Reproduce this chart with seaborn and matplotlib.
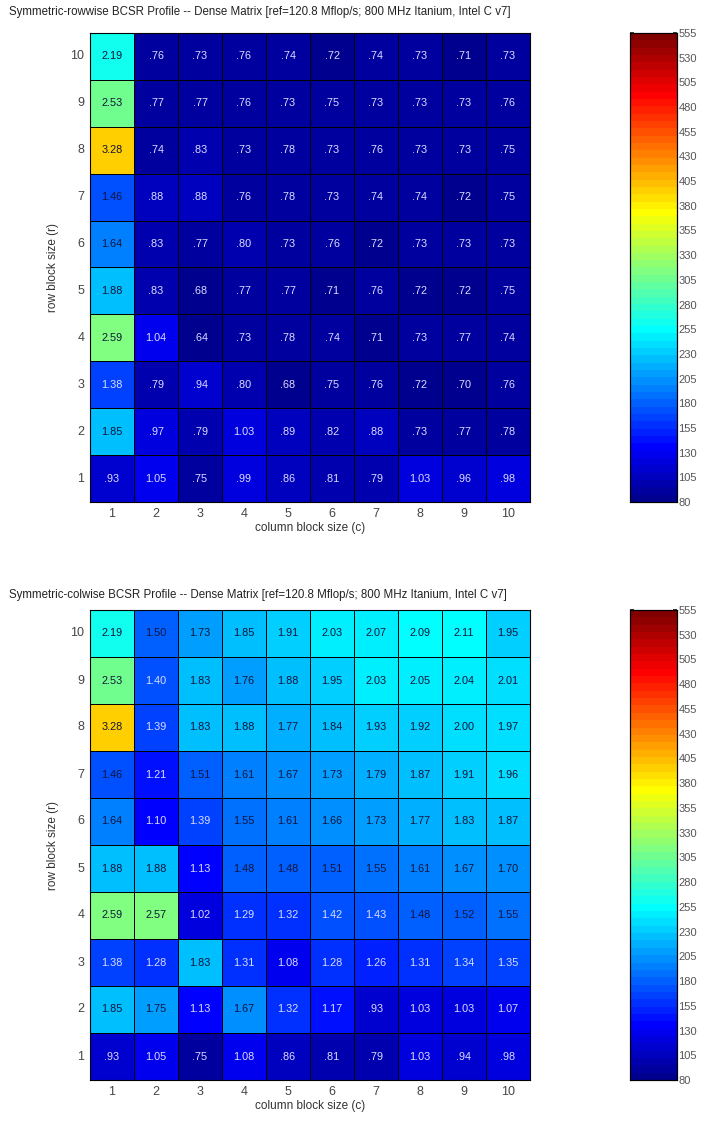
import numpy as np
import pandas as pd
import matplotlib
matplotlib.use("Agg")
import matplotlib.pyplot as plt
from matplotlib.colors import ListedColormap
import seaborn as sns

sns.set_theme(style="white")
plt.rcParams["font.family"] = ["Liberation Sans", "DejaVu Sans"]

REF_MFLOPS = 120.8
row_sizes = [10, 9, 8, 7, 6, 5, 4, 3, 2, 1]
col_sizes = [1, 2, 3, 4, 5, 6, 7, 8, 9, 10]

# Speedups over the reference rate, rows r = 10 .. 1, columns c = 1 .. 10
rowwise_speedup = [
    [2.19, 0.76, 0.73, 0.76, 0.74, 0.72, 0.74, 0.73, 0.71, 0.73],
    [2.53, 0.77, 0.77, 0.76, 0.73, 0.75, 0.73, 0.73, 0.73, 0.76],
    [3.28, 0.74, 0.83, 0.73, 0.78, 0.73, 0.76, 0.73, 0.73, 0.75],
    [1.46, 0.88, 0.88, 0.76, 0.78, 0.73, 0.74, 0.74, 0.72, 0.75],
    [1.64, 0.83, 0.77, 0.80, 0.73, 0.76, 0.72, 0.73, 0.73, 0.73],
    [1.88, 0.83, 0.68, 0.77, 0.77, 0.71, 0.76, 0.72, 0.72, 0.75],
    [2.59, 1.04, 0.64, 0.73, 0.78, 0.74, 0.71, 0.73, 0.77, 0.74],
    [1.38, 0.79, 0.94, 0.80, 0.68, 0.75, 0.76, 0.72, 0.70, 0.76],
    [1.85, 0.97, 0.79, 1.03, 0.89, 0.82, 0.88, 0.73, 0.77, 0.78],
    [0.93, 1.05, 0.75, 0.99, 0.86, 0.81, 0.79, 1.03, 0.96, 0.98],
]

colwise_speedup = [
    [2.19, 1.50, 1.73, 1.85, 1.91, 2.03, 2.07, 2.09, 2.11, 1.95],
    [2.53, 1.40, 1.83, 1.76, 1.88, 1.95, 2.03, 2.05, 2.04, 2.01],
    [3.28, 1.39, 1.83, 1.88, 1.77, 1.84, 1.93, 1.92, 2.00, 1.97],
    [1.46, 1.21, 1.51, 1.61, 1.67, 1.73, 1.79, 1.87, 1.91, 1.96],
    [1.64, 1.10, 1.39, 1.55, 1.61, 1.66, 1.73, 1.77, 1.83, 1.87],
    [1.88, 1.88, 1.13, 1.48, 1.48, 1.51, 1.55, 1.61, 1.67, 1.70],
    [2.59, 2.57, 1.02, 1.29, 1.32, 1.42, 1.43, 1.48, 1.52, 1.55],
    [1.38, 1.28, 1.83, 1.31, 1.08, 1.28, 1.26, 1.31, 1.34, 1.35],
    [1.85, 1.75, 1.13, 1.67, 1.32, 1.17, 0.93, 1.03, 1.03, 1.07],
    [0.93, 1.05, 0.75, 1.08, 0.86, 0.81, 0.79, 1.03, 0.94, 0.98],
]

cbar_ticks = list(range(80, 556, 25))
titles = [
    "Symmetric-rowwise BCSR Profile -- Dense Matrix [ref=120.8 Mflop/s; 800 MHz Itanium, Intel C v7]",
    "Symmetric-colwise BCSR Profile -- Dense Matrix [ref=120.8 Mflop/s; 800 MHz Itanium, Intel C v7]",
]


def matlab_jet(n=64):
    """Classic 64-level jet colour table."""
    m = n // 4
    u = np.concatenate([np.arange(1, m + 1) / m, np.ones(m - 1), np.arange(m, 0, -1) / m])
    g = int(np.ceil(m / 2)) - (1 if n % 4 == 1 else 0) + np.arange(1, len(u) + 1)
    r = g + m
    b = g - m
    rgb = np.zeros((n, 3))
    for ch, idx in ((0, r), (1, g), (2, b)):
        ok = (idx >= 1) & (idx <= n)
        rgb[idx[ok] - 1, ch] = u[ok]
    return ListedColormap(rgb, name="jet64")


def fmt_speedup(v):
    s = f"{v:.2f}"
    return s[1:] if s.startswith("0") else s


JET = matlab_jet(64)
W, H = 707, 1122
fig = plt.figure(figsize=(W / 100, H / 100), dpi=100)


def px_axes(x0, y0, x1, y1):
    return fig.add_axes([x0 / W, 1 - y1 / H, (x1 - x0) / W, (y1 - y0) / H])


panels = [
    (rowwise_speedup, titles[0], 12, (90, 33, 530, 502), (630, 33, 677, 502)),
    (colwise_speedup, titles[1], 595, (90, 610, 530, 1080), (630, 610, 677, 1080)),
]

for speed, title, title_y, hm_box, cb_box in panels:
    sp = np.array(speed)
    mflops = pd.DataFrame(sp * REF_MFLOPS, index=row_sizes, columns=col_sizes)
    labels = np.vectorize(fmt_speedup)(sp)
    ax = px_axes(*hm_box)
    cax = px_axes(*cb_box)
    sns.heatmap(
        mflops, ax=ax, cbar_ax=cax, cmap=JET, vmin=80, vmax=555,
        annot=labels, fmt="", linewidths=0.6, linecolor="black",
        annot_kws={"fontsize": 7.8},
        cbar_kws={"ticks": cbar_ticks},
    )
    # dark labels on the brighter cells, light labels on the deep blue ones
    for t, v in zip(ax.texts, sp.ravel()):
        t.set_color("#14143a" if v >= 1.44 else "#dcdcff")

    for s in ax.spines.values():
        s.set_visible(True)
        s.set_color("black")
        s.set_linewidth(0.8)
    fig.text(9 / W, 1 - title_y / H, title, fontsize=8.3, color="#222222",
             ha="left", va="center")
    ax.set_xlabel("column block size (c)", fontsize=8.5, color="#333333", labelpad=2)
    ax.set_ylabel("row block size (r)", fontsize=8.5, color="#333333", labelpad=8)
    ax.tick_params(axis="both", labelsize=9, colors="#444444", length=0, pad=4)
    ax.set_yticklabels(ax.get_yticklabels(), rotation=0)
    ax.set_xticklabels(ax.get_xticklabels(), rotation=0)

    cax.yaxis.set_ticks_position("both")
    cax.tick_params(labelsize=8, labelcolor="#555555", color="#222222", length=3,
                    direction="in", pad=1, left=True, right=True,
                    labelleft=False, labelright=True)
    for s in cax.spines.values():
        s.set_visible(True)
        s.set_color("black")
        s.set_linewidth(0.8)

fig.savefig("out.png", dpi=100)
